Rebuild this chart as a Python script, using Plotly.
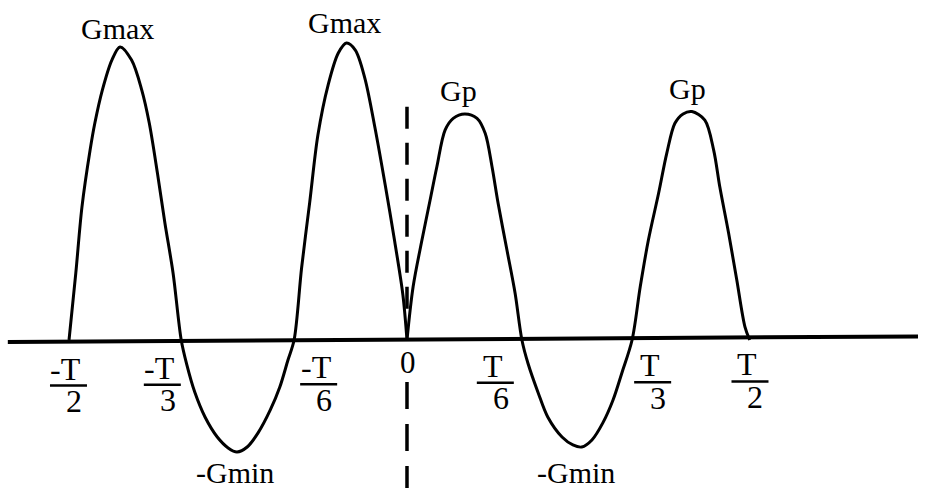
import plotly.graph_objects as go

# Gain G(t) over one period: t in units of the period T, G relative to Gmax.
lobe1_t = [-0.497, -0.487, -0.478, -0.466, -0.459, -0.448, -0.434, -0.422,
           -0.405, -0.390, -0.379, -0.367, -0.356, -0.344, -0.332]
lobe1_g = [0.0, 0.228, 0.452, 0.646, 0.738, 0.850, 0.952, 0.997,
           0.952, 0.850, 0.738, 0.568, 0.398, 0.228, 0.0]

lobe2_t = [-0.332, -0.324, -0.312, -0.297, -0.279, -0.263, -0.250,
           -0.235, -0.219, -0.201, -0.187, -0.175, -0.166]
lobe2_g = [0.0, -0.082, -0.178, -0.262, -0.330, -0.367, -0.381,
           -0.364, -0.316, -0.238, -0.160, -0.068, 0.0]

lobe3_t = [-0.166, -0.155, -0.143, -0.131, -0.116, -0.101, -0.089,
           -0.076, -0.062, -0.047, -0.032, -0.018, -0.006, 0.0]
lobe3_g = [0.0, 0.245, 0.469, 0.697, 0.867, 0.976, 1.010,
           0.986, 0.891, 0.721, 0.527, 0.334, 0.153, 0.0]

lobe4_t = [0.0, 0.009, 0.022, 0.034, 0.044, 0.056, 0.068, 0.085,
           0.103, 0.115, 0.125, 0.134, 0.147, 0.159, 0.169]
lobe4_g = [0.0, 0.181, 0.340, 0.476, 0.590, 0.714, 0.754, 0.769,
           0.754, 0.703, 0.590, 0.465, 0.306, 0.159, 0.0]

lobe5_t = [0.169, 0.178, 0.193, 0.207, 0.228, 0.244, 0.257,
           0.272, 0.288, 0.303, 0.316, 0.331]
lobe5_g = [0.0, -0.080, -0.180, -0.262, -0.330, -0.357, -0.364,
           -0.340, -0.282, -0.204, -0.112, 0.0]

lobe6_t = [0.331, 0.343, 0.355, 0.370, 0.382, 0.394, 0.406, 0.419,
           0.438, 0.451, 0.460, 0.473, 0.485, 0.497, 0.504]
lobe6_g = [0.0, 0.181, 0.340, 0.499, 0.635, 0.737, 0.769, 0.777,
           0.748, 0.646, 0.521, 0.363, 0.204, 0.045, 0.0]

# Axis tick positions (in T) and their fraction labels
tick_at = [-1 / 2, -1 / 3, -1 / 6, 0.0, 1 / 6, 1 / 3, 1 / 2]
tick_num = ["-T", "-T", "-T", "0", "T", "T", "T"]
tick_den = ["2", "3", "6", None, "6", "3", "2"]

# Peak annotations: label, lobe index
peak_labels = [("Gmax", 0), ("-Gmin", 1), ("Gmax", 2), ("Gp", 3), ("-Gmin", 4), ("Gp", 5)]

# ---- layout constants -------------------------------------------------------
W, H = 931, 488
X_RANGE = [-0.5985, 0.7706]
Y_RANGE = [-0.5034, 1.1565]
FONT = "Liberation Serif"
INK = "black"

lobes = [(lobe1_t, lobe1_g), (lobe2_t, lobe2_g), (lobe3_t, lobe3_g),
         (lobe4_t, lobe4_g), (lobe5_t, lobe5_g), (lobe6_t, lobe6_g)]


def join(parts):
    ts, gs = [], []
    for t, g in parts:
        start = 1 if ts else 0
        ts += t[start:]
        gs += g[start:]
    return ts, gs


fig = go.Figure()

# two branches meeting in the cusp at t = 0
for part in (lobes[:3], lobes[3:]):
    ts, gs = join(part)
    fig.add_trace(go.Scatter(
        x=ts, y=gs, mode="lines",
        line=dict(color=INK, width=3, shape="spline", smoothing=0.9),
        hoverinfo="skip", showlegend=False,
    ))

shapes = []
# time axis (very slightly tilted)
shapes.append(dict(type="line", xref="x", yref="y",
                   x0=-0.587, x1=0.7515, y0=-0.0065, y1=0.0122,
                   line=dict(color=INK, width=4)))

# dashed vertical marker at t = 0
shapes.append(dict(type="line", xref="x", yref="y", x0=0, x1=0,
                   y0=0.793, y1=0.095,
                   line=dict(color=INK, width=3.5, dash="22px,14px")))
shapes.append(dict(type="line", xref="x", yref="y", x0=0, x1=0,
                   y0=-0.143, y1=-0.56,
                   line=dict(color=INK, width=3.5, dash="27px,15px")))

annotations = []

# tick labels written as fractions below the axis
frac_dx = [1.5, -18, 25, 1, -25, 19, 3]
for t, num, den, dx in zip(tick_at, tick_num, tick_den, frac_dx):
    drop = -0.5 - 4.08 * t          # local axis offset (px, downward)
    if den is None:
        annotations.append(dict(x=t, y=0, xref="x", yref="y", text=num,
                                showarrow=False, xshift=dx, yshift=-(drop + 22.5),
                                font=dict(family=FONT, size=31, color=INK)))
        continue
    annotations.append(dict(x=t, y=0, xref="x", yref="y", text=num,
                            showarrow=False, xshift=dx - 2.5, yshift=-(drop + 27),
                            font=dict(family=FONT, size=32, color=INK)))
    annotations.append(dict(x=t, y=0, xref="x", yref="y", text=den,
                            showarrow=False, xshift=dx + 5.5, yshift=-(drop + 59.5),
                            font=dict(family=FONT, size=32, color=INK)))
    shapes.append(dict(type="line", xref="x", yref="y",
                       xsizemode="pixel", xanchor=t, x0=dx - 18.5, x1=dx + 18.5,
                       ysizemode="pixel", yanchor=0,
                       y0=-(drop + 44), y1=-(drop + 44),
                       line=dict(color=INK, width=2.5)))

# extremum labels
label_shift = [(-3, 18), (-2, -20.5), (-2, 20.5), (-6, 23), (-6, -25), (-4, 23.5)]
for (text, idx), (sx, sy) in zip(peak_labels, label_shift):
    t, g = lobes[idx]
    k = max(range(len(g)), key=lambda i: abs(g[i]))
    annotations.append(dict(x=t[k], y=g[k], xref="x", yref="y", text=text,
                            showarrow=False, xshift=sx, yshift=sy,
                            font=dict(family=FONT, size=30, color=INK)))

fig.update_layout(
    width=W, height=H,
    margin=dict(l=0, r=0, t=0, b=0),
    paper_bgcolor="white", plot_bgcolor="white",
    xaxis=dict(range=X_RANGE, visible=False, fixedrange=True),
    yaxis=dict(range=Y_RANGE, visible=False, fixedrange=True),
    shapes=shapes,
    annotations=annotations,
    showlegend=False,
)

fig.write_html("out.html")
